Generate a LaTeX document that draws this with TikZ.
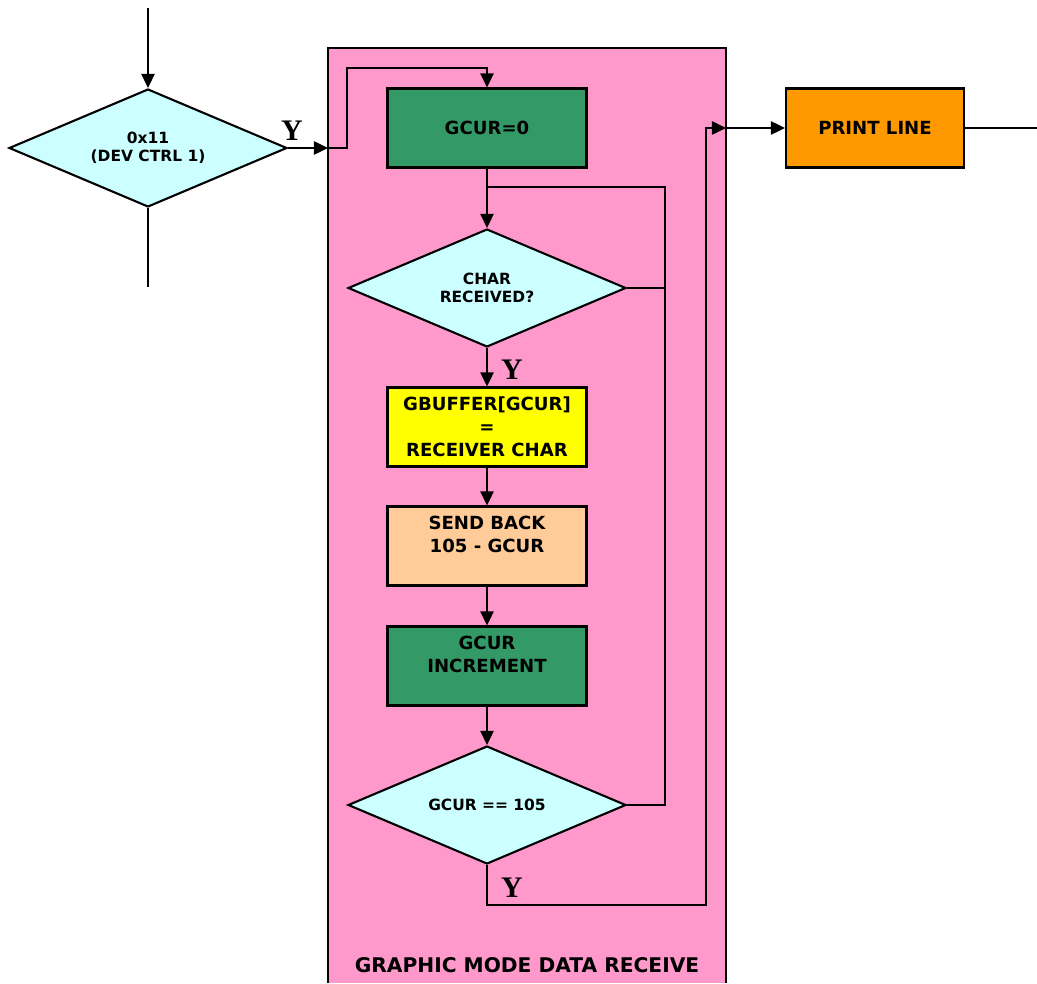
\documentclass[tikz,border=0pt]{standalone}
\usepackage{fontspec}
\setmainfont{DejaVu Sans}
\newfontfamily\yesfont{Liberation Serif}
\usepackage{tikz}
\usetikzlibrary{shapes.geometric, arrows.meta, positioning}
\definecolor{pinkbg}{HTML}{FF99CC}
\definecolor{darkgreen}{HTML}{339966}
\definecolor{lightcyan}{HTML}{CCFFFF}
\definecolor{brightyellow}{HTML}{FFFF00}
\definecolor{peach}{HTML}{FFCC99}
\definecolor{orangebox}{HTML}{FF9900}
\tikzset{
  procbox/.style={rectangle, draw=black, line width=1.2pt,
    minimum width=3.98cm, minimum height=1.58cm, align=center,
    font=\fontsize{10.3}{13}\selectfont\bfseries, inner sep=2pt},
  decision/.style={diamond, draw=black, fill=lightcyan, line width=1.2pt,
    aspect=2.35, minimum width=5.56cm, minimum height=2.36cm, align=center,
    font=\fontsize{8.8}{10}\selectfont\bfseries, inner sep=1pt},
  arrow/.style={-{Triangle[length=8pt, width=7.5pt]}, line width=1.2pt},
  line/.style={line width=1.2pt},
  yeslabel/.style={font=\yesfont\fontsize{17}{17}\selectfont\bfseries}
}

\begin{document}
\begin{tikzpicture}[x=0.02cm, y=-0.02cm]
  \useasboundingbox (0,0) rectangle (1037,983);

  % Group background
  \fill[pinkbg] (328,48) rectangle (726,983);
  \draw[line] (328,983) |- (726,48) -- (726,983);
  \node[font=\fontsize{11.5}{13}\selectfont\bfseries] (title) at (527,965) {GRAPHIC MODE DATA RECEIVE};

  % Nodes
  \node[decision] (devctrl) at (148,148) {0x11\\(DEV CTRL 1)};
  \node[procbox, fill=darkgreen] (gcurzero) at (487,128) {GCUR=0};
  \node[decision] (charrcv) at (487,288) {CHAR\\RECEIVED?};
  \node[procbox, fill=brightyellow] (storechar) at (487,427) {GBUFFER[GCUR]\\=\\RECEIVER CHAR};
  \node[procbox, fill=peach] (sendback) at (487,546) {SEND BACK\\105 - GCUR\\\mbox{}};
  \node[procbox, fill=darkgreen] (gcurinc) at (487,666) {GCUR\\INCREMENT\\\mbox{}};
  \node[decision] (gcurfull) at (487,805) {GCUR == 105};
  \node[procbox, fill=orangebox, minimum width=3.56cm] (printline) at (875,128) {PRINT LINE};

  % Free ends and bends
  \coordinate (intop) at (148,8);
  \coordinate (outbot) at (148,287);
  \coordinate (entry) at (328,148);
  \coordinate (loopin) at (487,187);
  \coordinate (loopright) at (665,805);
  \coordinate (exit) at (726,128);
  \coordinate (outright) at (1037,128);

  % Connectors
  \draw[arrow] (intop) -- (devctrl.north);
  \draw[line] (devctrl.south) -- (outbot);
  \draw[arrow] (devctrl.east) -- (entry);
  \draw[arrow] (entry) -| (347,68) -| (gcurzero.north);
  \draw[arrow] (gcurzero.south) -- (charrcv.north);
  \draw[line] (gcurfull.east) -- (loopright) |- (loopin);
  \draw[line] (charrcv.east) -- (665,288);
  \draw[arrow] (charrcv.south) -- (storechar.north);
  \draw[arrow] (storechar.south) -- (sendback.north);
  \draw[arrow] (sendback.south) -- (gcurinc.north);
  \draw[arrow] (gcurinc.south) -- (gcurfull.north);
  \draw[arrow] (gcurfull.south) |- (706,905) |- (exit);
  \draw[arrow] (exit) -- (printline.west);
  \draw[line] (printline.east) -- (outright);

  % Branch labels
  \node[yeslabel] (yes1) at (292,131) {Y};
  \node[yeslabel] (yes2) at (512,370) {Y};
  \node[yeslabel] (yes3) at (512,888) {Y};
\end{tikzpicture}
\end{document}
